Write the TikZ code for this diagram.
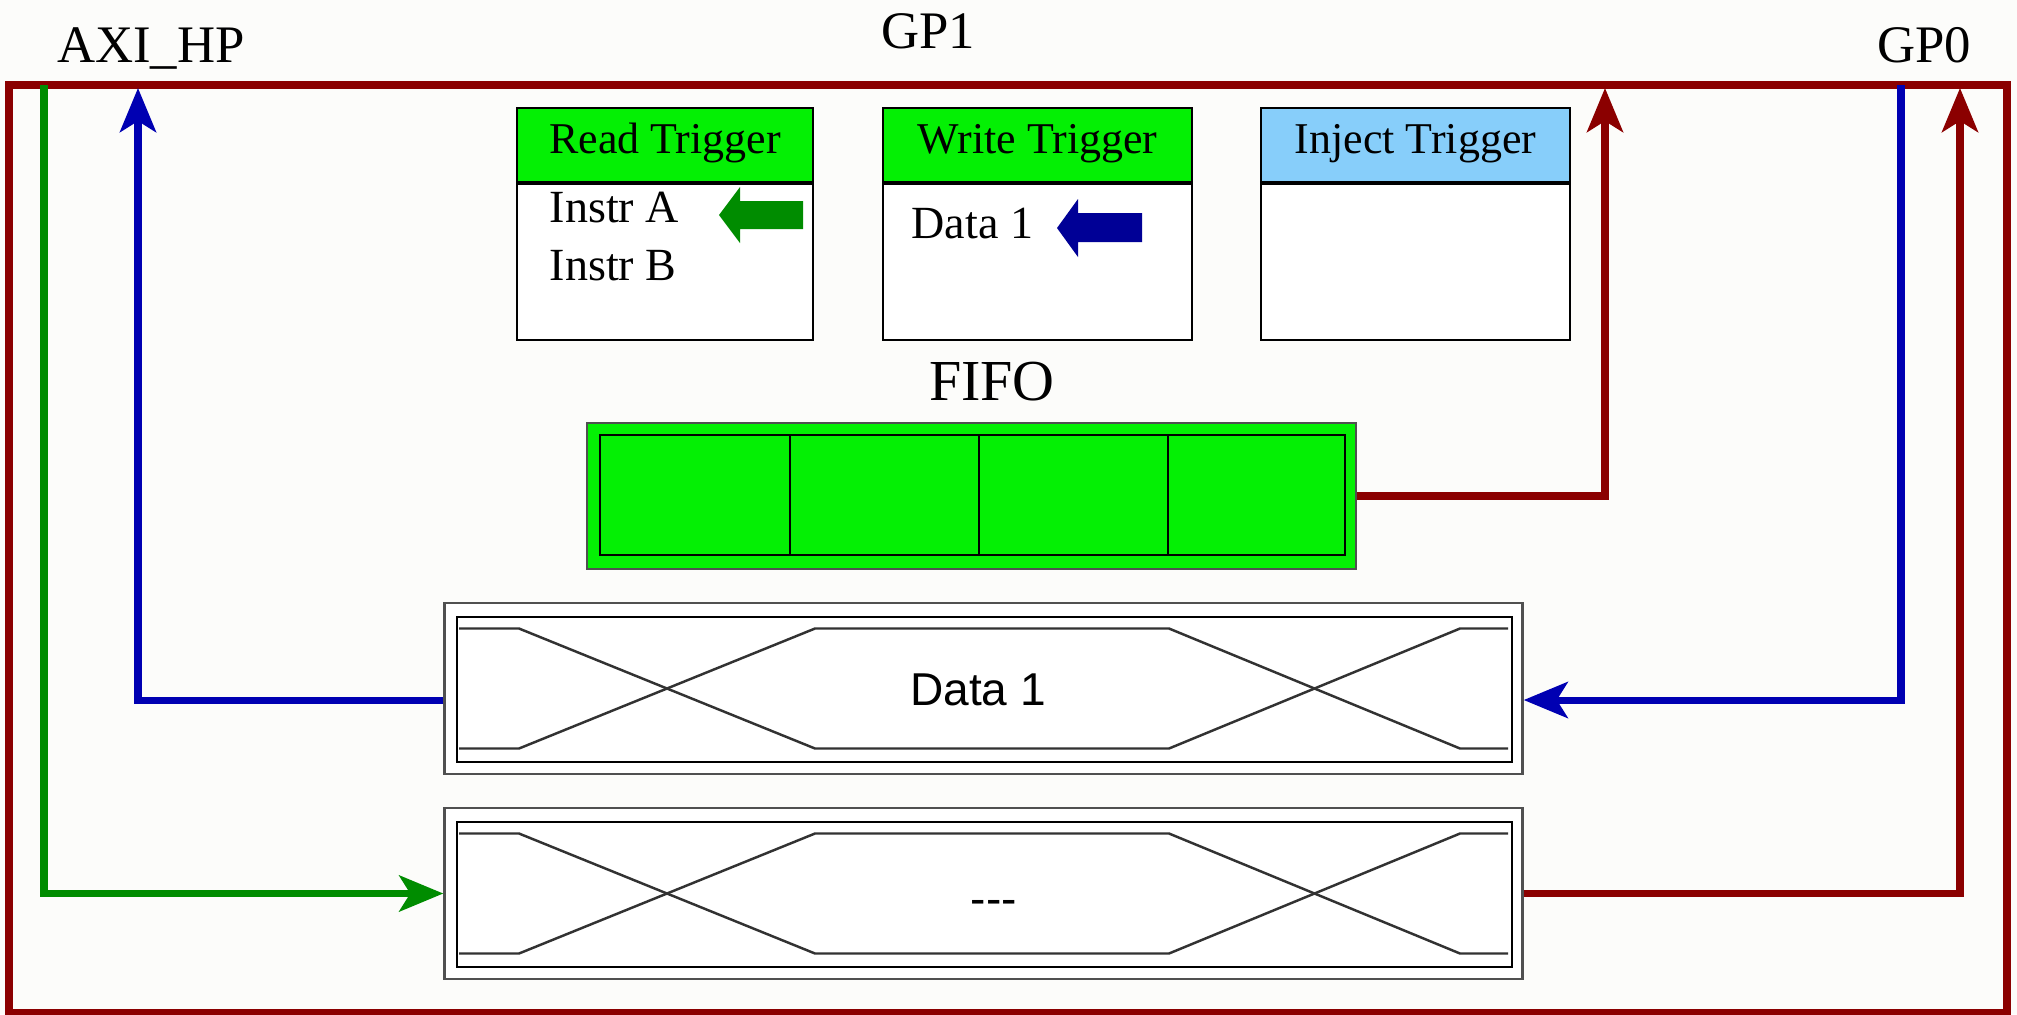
\documentclass[tikz,border=0pt]{standalone}
\usepackage{fontspec}
\setmainfont{Liberation Serif}
\newfontfamily\sansf{Liberation Sans}
\usetikzlibrary{arrows.meta}

\definecolor{pagebg}{RGB}{252,252,250}
\definecolor{busred}{RGB}{139,0,0}
\definecolor{busblue}{RGB}{0,0,178}
\definecolor{busgreen}{RGB}{0,140,0}
\definecolor{hdgreen}{RGB}{4,240,4}
\definecolor{hdblue}{RGB}{135,206,250}
\definecolor{navy}{RGB}{0,0,150}
\definecolor{edgegray}{RGB}{80,80,80}
\definecolor{wavegray}{RGB}{50,50,50}

\begin{document}
\begin{tikzpicture}[x=0.01cm,y=-0.01cm,
  wire/.style={line width=2pt, line join=miter},
  tipped/.style={-{Stealth[length=0.44cm,width=0.36cm,inset=0.11cm]}},
  redwire/.style={wire, draw=busred},
  bluewire/.style={wire, draw=busblue},
  greenwire/.style={wire, draw=busgreen},
  portlabel/.style={anchor=base, inner sep=0, font=\fontsize{15}{18}\selectfont},
  trighead/.style={draw=black, line width=0.6pt, minimum height=0.74cm, inner sep=0,
    font=\fontsize{12.5}{15}\selectfont, text height=0.68em, text depth=0.22em},
  trigbody/.style={draw=black, fill=white, line width=0.6pt, minimum height=1.56cm, inner sep=0, anchor=north},
  entry/.style={anchor=base west, inner sep=0, font=\fontsize{13.1}{16}\selectfont},
  databox/.style={draw=edgegray, fill=white, line width=0.8pt, minimum width=10.77cm, minimum height=1.71cm, inner sep=0},
  datatext/.style={anchor=base, inner sep=0, font=\sansf\fontsize{13.1}{16}\selectfont},
  wave/.style={draw=wavegray, line width=0.7pt, line join=miter},
  frame/.style={draw=black, line width=0.6pt}]

\useasboundingbox (0,0) rectangle (2017,1014);
\fill[pagebg] (0,0) rectangle (2017,1014);

% outer bus frame
\draw[redwire] (9,85) rectangle (2007,1012);

% port labels
\node[portlabel] (axilab) at (151,62) {AXI\_HP};
\node[portlabel] (gp1lab) at (928,48) {GP1};
\node[portlabel] (gp0lab) at (1924,62) {GP0};

% trigger registers
\node[trighead, fill=hdgreen, minimum width=2.96cm] (rdh) at (665,145) {Read Trigger};
\node[trigbody, minimum width=2.96cm] (rdb) at (rdh.south) {};
\node[trighead, fill=hdgreen, minimum width=3.09cm] (wrh) at (1037.5,145) {Write Trigger};
\node[trigbody, minimum width=3.09cm] (wrb) at (wrh.south) {};
\node[trighead, fill=hdblue, minimum width=3.09cm] (inh) at (1415.5,145) {Inject Trigger};
\node[trigbody, minimum width=3.09cm] (inb) at (inh.south) {};

\node[entry] (instra) at (549,222) {Instr A};
\node[entry] (instrb) at (549,280) {Instr B};
\node[entry] (wdata) at (911,238) {Data 1};

% pointer arrows inside the triggers
\fill[busgreen] (803,201) -- (740,201) -- (740,187) -- (719,215) -- (740,243) -- (740,229) -- (803,229) -- cycle;
\fill[navy] (1142,213) -- (1078,213) -- (1078,199) -- (1057,228) -- (1078,257) -- (1078,242) -- (1142,242) -- cycle;

% FIFO
\node[anchor=base, inner sep=0, font=\fontsize{16.5}{20}\selectfont] (fifolab) at (992,400) {FIFO};
\node[draw=edgegray, fill=hdgreen, line width=0.7pt, minimum width=7.69cm, minimum height=1.46cm, inner sep=0] (fifo) at (971.5,496) {};
\draw[frame] (600,435) rectangle (1345,555);
\foreach \cx in {790,979,1168} \draw[frame] (\cx,435) -- (\cx,555);

% data slots with bus waveforms
\node[databox] (d1) at (983.5,688.5) {};
\node[databox] (d2) at (983.5,893.5) {};
\foreach \slot in {d1,d2} {
  \begin{scope}[shift={(\slot.center)}]
    \draw[frame] (-526.5,-71.5) rectangle (528.5,73.5);
    \draw[wave] (-524.5,-60) -- (-464.5,-60) -- (-168.5,60) -- (185.5,60) -- (476.5,-60) -- (524.5,-60);
    \draw[wave] (-524.5,60) -- (-464.5,60) -- (-168.5,-60) -- (185.5,-60) -- (476.5,60) -- (524.5,60);
  \end{scope}
}
\node[datatext] (d1txt) at (978,705) {Data 1};
\node[datatext] (d2txt) at (994,914) {-{}-{}-};

% bus connections
\coordinate (axiTip) at (138,88);
\coordinate (axiSrc) at (44,85);
\coordinate (gp1Tip) at (1605,88);
\coordinate (gp0Src) at (1901,85);
\coordinate (gp0Tip) at (1960,88);

\draw[redwire, tipped] (fifo.east) -| (gp1Tip);
\draw[bluewire, tipped] ([yshift=-0.115cm]d1.west) -| (axiTip);
\draw[bluewire, tipped] (gp0Src) |- ([yshift=-0.115cm]d1.east);
\draw[greenwire, tipped] (axiSrc) |- (d2.west);
\draw[redwire, tipped] (d2.east) -| (gp0Tip);

\end{tikzpicture}
\end{document}
